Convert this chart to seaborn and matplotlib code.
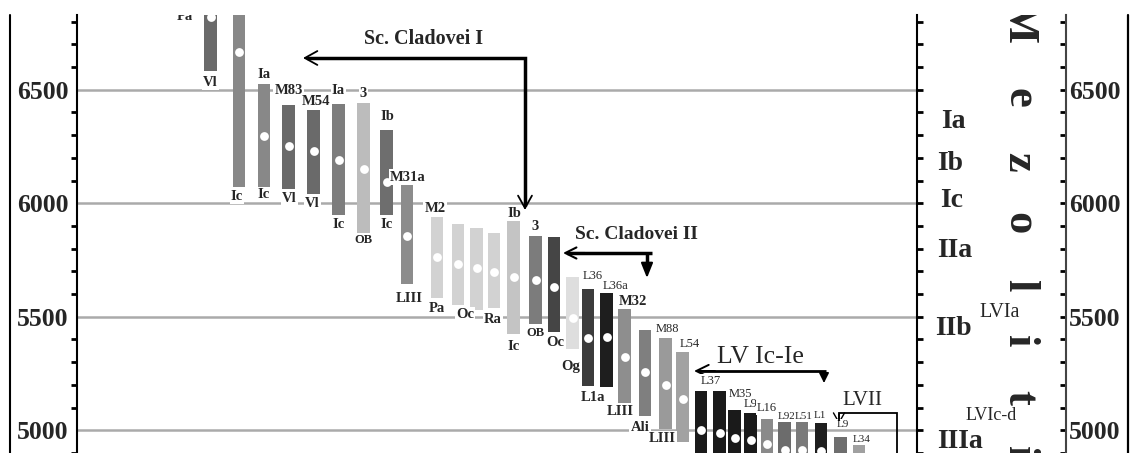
import numpy as np
import pandas as pd
import matplotlib
matplotlib.use("Agg")
import matplotlib.pyplot as plt
from matplotlib.lines import Line2D
import seaborn as sns

# ---------------- data: calibrated date ranges (cal BC) ----------------
top_labels = ["", "", "", "Ia", "M83", "M54", "Ia", "3", "Ib", "M31a", "M2",
              "", "", "", "Ib", "3", "", "", "L36", "L36a", "M32", "", "M88",
              "L54", "L37", "", "M35", "L9", "L16", "L92", "L51", "L1", "L9", "L34"]
bottom_labels = ["Pa", "Vl", "Ic", "Ic", "Vl", "Vl", "Ic", "OB", "Ic", "LIII", "Pa",
                 "Oc", "", "Ra", "Ic", "OB", "Oc", "Og", "L1a", "", "LIII", "Ali",
                 "LIII", "", "", "", "", "", "", "", "", "", "", ""]
upper = [7300, 7000, 7100, 6526, 6431, 6413, 6439, 6444, 6322, 6080, 5941,
         5910, 5893, 5867, 5928, 5854, 5850, 5676, 5624, 5603, 5533, 5442,
         5408, 5347, 5173, 5173, 5091, 5078, 5048, 5035, 5035, 5030, 4970, 4935]
lower = [6868, 6582, 6071, 6071, 6062, 6040, 5949, 5863, 5949, 5646, 5581,
         5551, 5529, 5538, 5425, 5468, 5434, 5356, 5195, 5191, 5121, 5061,
         5004, 4948, 4800, 4800, 4840, 4835, 4830, 4800, 4800, 4790, 4740, 4720]
median = [7080, 6821, 6665, 6296, 6253, 6231, 6192, 6153, 6092, 5854, 5763,
          5733, 5715, 5698, 5676, 5663, 5633, 5494, 5408, 5412, 5321, 5256,
          5200, 5139, 5000, 4987, 4965, 4957, 4939, 4915, 4915, 4910, 4855, 4830]
yticks = [5000, 5500, 6000, 6500]
ytick_labels = ["5000", "5500", "6000", "6500"]
phases = ["Ia", "Ib", "Ic", "IIa", "IIb", "IIIa"]
period_letters = list("Mezoliti")

# ---------------- layout / style ----------------
positions = [185, 210.5, 239, 264, 288.5, 313.5, 338.5, 363.5, 386.5, 407, 437,
             458, 476.5, 494, 513.5, 535.5, 554, 572.5, 588, 606.5, 624.5, 645,
             665.5, 682.5, 701, 719.5, 734.5, 750.5, 767, 784.5, 802, 821, 840.5, 859]
bar_colors = ["#6a6a6a", "#6a6a6a", "#888888", "#888888", "#6a6a6a", "#6a6a6a",
              "#7d7d7d", "#bcbcbc", "#6e6e6e", "#8c8c8c", "#d2d2d2", "#d2d2d2",
              "#d2d2d2", "#d2d2d2", "#c4c4c4", "#7c7c7c", "#454545", "#dedede",
              "#3c3c3c", "#1e1e1e", "#8e8e8e", "#7f7f7f", "#9a9a9a", "#a2a2a2",
              "#1a1a1a", "#1a1a1a", "#1a1a1a", "#1a1a1a", "#8a8a8a", "#6c6c6c",
              "#7a7a7a", "#1e1e1e", "#6e6e6e", "#a0a0a0"]
top_off = [(0, 0)] * 3 + [(0, -9), (0, -15), (2, -8), (0, -13), (0, -9), (1, -14),
                          (1, -8), (-2, -8)] + [(0, 0)] * 3 + \
          [(1, -6), (0, -10), (0, 0), (0, 0), (5, -13), (9, -7), (8, -8), (0, 0),
           (2, -9), (7, -8), (10, -10), (0, 0), (6, -16), (0, -9), (0, -11),
           (2, -6), (2, -6), (-1, -8), (2, -13), (3, -6)]
bot_off = [(0, 10), (0, 11), (-2, 9), (0, 7), (1, 9), (-1, 9), (0, 10), (0, 6),
           (0, 10), (2, 15), (0, 10), (7, 9), (0, 0), (-1, 11), (0, 13), (0, 9),
           (1, 11), (-2, 17), (5, 11), (0, 0), (-4, 9), (-5, 11), (-3, 9)] + [(0, 0)] * 11
phase_pos = [(953, 128), (950, 170), (952, 207), (955, 257), (953, 335), (960, 448)]
letter_y = [22, 98, 162, 223, 285, 341, 397, 452]

W, H = 1132, 453
SERIF = ["Liberation Serif", "DejaVu Serif"]

sns.set_theme(style="white")
plt.rcParams["font.family"] = SERIF
plt.rcParams["axes.edgecolor"] = "black"

fig = plt.figure(figsize=(W / 100, H / 100), dpi=100)
fig.patch.set_facecolor("white")


def F(x, y):
    return (x / W, (H - y) / H)


ax = fig.add_axes([77 / W, 0, (917 - 77) / W, (H - 15) / H])
ax_mid = fig.add_axes([917 / W, 0, (1066 - 917) / W, (H - 15) / H])
ylim = (4930.6, 6829.5)

df = pd.DataFrame({"pos": positions, "lower": lower, "upper": upper, "median": median})
df["span"] = df["upper"] - df["lower"]

sns.barplot(data=df, x="pos", y="span", native_scale=True, orient="x",
            errorbar=None, color="gray", width=0.85, bottom=df["lower"].values,
            linewidth=0, zorder=2, ax=ax)
for patch, c in zip(ax.patches, bar_colors):
    patch.set_facecolor(c)
    patch.set_edgecolor("none")

sns.scatterplot(data=df, x="pos", y="median", color="white", s=40, linewidth=0,
                zorder=3, legend=False, ax=ax)

ax.set_xlim(77, 917)
ax.set_ylim(*ylim)
ax.set(xlabel="", ylabel="")
ax.set_xticks([])
ax.set_yticks(yticks)
ax.set_yticklabels(ytick_labels, fontsize=18.5, fontweight="bold")
ax.set_yticks(np.arange(4900, 6900, 100), minor=True)
ax.tick_params(axis="y", which="major", length=0, pad=6)
ax.tick_params(axis="y", which="minor", length=4, width=2, direction="out",
               color="black", left=True)
ax.yaxis.grid(True, which="major", color="#aaaaaa", lw=1.8)
ax.xaxis.grid(False)
ax.set_axisbelow(True)
for s in ["top", "right", "bottom"]:
    ax.spines[s].set_visible(False)
ax.spines["left"].set_color("black")
ax.spines["left"].set_linewidth(1.5)

# bar labels
lab_box = dict(boxstyle="square,pad=0.08", fc="white", ec="none")
for i in range(len(positions)):
    if top_labels[i]:
        dx, dy = top_off[i]
        regular = i >= 18 and top_labels[i] != "M32"
        fs = 8 if i >= 29 else (9 if regular else 10.5)
        ax.annotate(top_labels[i], xy=(positions[i], upper[i]), xytext=(dx, -dy),
                    textcoords="offset pixels", ha="center", va="center",
                    fontsize=fs, fontweight="normal" if regular else "bold",
                    bbox=lab_box, annotation_clip=False, clip_on=True, zorder=4)
    if bottom_labels[i]:
        dx, dy = bot_off[i]
        fs = 9 if bottom_labels[i] == "OB" else 10.5
        ax.annotate(bottom_labels[i], xy=(positions[i], lower[i]), xytext=(dx, -dy),
                    textcoords="offset pixels", ha="center", va="center",
                    fontsize=fs, fontweight="bold", bbox=lab_box,
                    annotation_clip=False, clip_on=True, zorder=4)

# middle / right axis
ax_mid.set_ylim(*ylim)
ax_mid.set_xlim(0, 1)
ax_mid.set_xticks([])
ax_mid.set_yticks(yticks)
ax_mid.set_yticklabels(ytick_labels, fontsize=18.5, fontweight="bold")
ax_mid.set_yticks(np.arange(4900, 6900, 100), minor=True)
ax_mid.tick_params(axis="y", which="both", direction="in", left=True, right=True,
                   labelleft=False, labelright=True, length=4, width=2,
                   color="black", pad=2)
ax_mid.grid(False)
ax_mid.patch.set_alpha(0)
for s in ["top", "bottom"]:
    ax_mid.spines[s].set_visible(False)
ax_mid.spines["left"].set_color("black")
ax_mid.spines["left"].set_linewidth(1.5)
ax_mid.spines["right"].set_color("#444444")
ax_mid.spines["right"].set_linewidth(1.5)

for lab, (x, y) in zip(phases, phase_pos):
    fig.text(*F(x, y), lab, ha="center", va="baseline", fontsize=20,
             fontweight="bold")
fig.text(*F(1000, 317), "LVIa", ha="center", va="baseline", fontsize=14.5)
fig.text(*F(991, 420), "LVIc-d", ha="center", va="baseline", fontsize=13)
for ch, y in zip(period_letters, letter_y):
    ax_mid.text(*F(1019, y), ch, transform=fig.transFigure, rotation=-90,
                ha="center", va="center", fontsize=32, fontweight="bold",
                clip_on=True)

# frame lines
fig.add_artist(Line2D([10 / W, 10 / W], [0, (H - 15) / H], transform=fig.transFigure,
                      color="black", lw=1.5))
fig.add_artist(Line2D([1128 / W, 1128 / W], [0, (H - 15) / H], transform=fig.transFigure,
                      color="black", lw=1.6))


# arrows
def polyline(pts, lw):
    fig.add_artist(Line2D([p[0] / W for p in pts], [(H - p[1]) / H for p in pts],
                          transform=fig.transFigure, color="black", lw=lw,
                          solid_capstyle="butt", solid_joinstyle="miter"))


def head(tip, frm, style, lw, fc="black"):
    ax.annotate("", xy=F(*tip), xytext=F(*frm), xycoords="figure fraction",
                textcoords="figure fraction",
                arrowprops=dict(arrowstyle=style, lw=lw, color="black", fc=fc,
                                mutation_scale=20, shrinkA=0, shrinkB=0))


polyline([(307, 58), (525, 58), (525, 206)], 2.5)
head((303, 58), (325, 58), "->,head_length=0.45,head_width=0.25", 1.3)
head((525, 210), (525, 190), "->,head_length=0.45,head_width=0.25", 1.3)

polyline([(567, 253), (652, 253)], 2.5)
polyline([(647, 253), (647, 268)], 2.5)
head((563, 253), (585, 253), "->,head_length=0.4,head_width=0.2", 1.5)
head((647, 278), (647, 262), "-|>,head_length=0.45,head_width=0.18", 1.5)

polyline([(698, 371), (826, 371)], 2.0)
polyline([(824, 371), (824, 377)], 2.0)
head((694, 371), (715, 371), "->,head_length=0.45,head_width=0.22", 1.4)
head((824, 383), (824, 372), "-|>,head_length=0.3,head_width=0.15", 1.2)

polyline([(897, 460), (897, 413), (839, 413), (839, 421)], 1.3)
head((839, 424), (839, 414), "->,head_length=0.35,head_width=0.2", 1.0)

fig.text(*F(424, 44), "Sc. Cladovei I", ha="center", va="baseline",
         fontsize=14.5, fontweight="bold")
fig.text(*F(636, 239), "Sc. Cladovei II", ha="center", va="baseline",
         fontsize=14, fontweight="bold")
fig.text(*F(760, 363), "LV Ic-Ie", ha="center", va="baseline", fontsize=18.5)
fig.text(*F(862, 405), "LVII", ha="center", va="baseline", fontsize=15)

fig.savefig("out.png", dpi=100, facecolor="white")
